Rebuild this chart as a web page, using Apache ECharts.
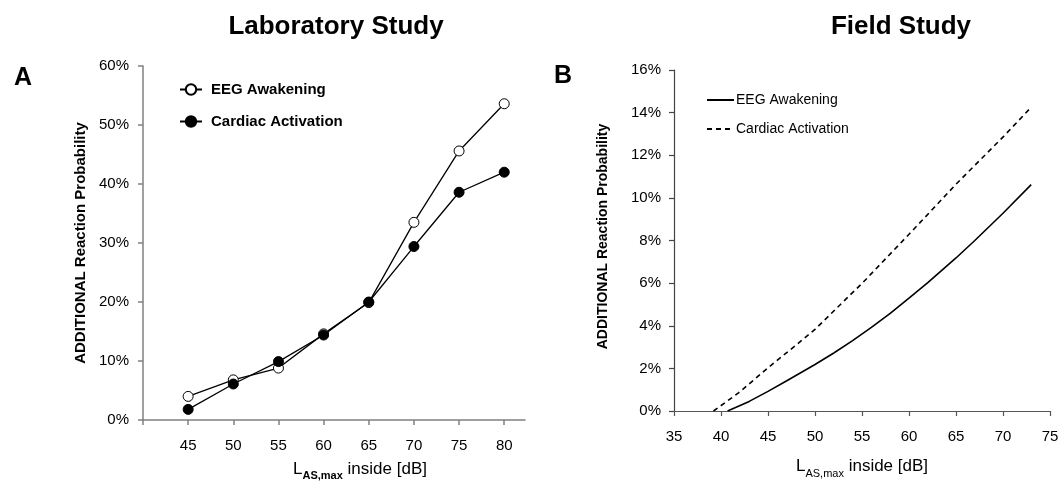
<!DOCTYPE html>
<html>
<head>
<meta charset="utf-8">
<script src="https://cdn.jsdelivr.net/npm/echarts@6/dist/echarts.min.js"></script>
<style>
html,body{margin:0;padding:0;background:#fff;}
#c{width:1060px;height:481px;}
</style>
</head>
<body>
<div id="c"></div>
<script>
// Laboratory study (panel A)
const labLevels = [45, 50, 55, 60, 65, 70, 75, 80];
const labEEG = [4.0, 6.8, 8.8, 14.6, 19.9, 33.5, 45.6, 53.6];
const labCardiac = [1.8, 6.1, 9.9, 14.4, 20.0, 29.4, 38.6, 42.0];
const labXTicks = [40, 45, 50, 55, 60, 65, 70, 75, 80];
const labXLabels = [45, 50, 55, 60, 65, 70, 75, 80];

// Field study (panel B)
const fieldEEGx = [40.7, 43.0, 45.0, 47.0, 50.0, 52.0, 54.0, 56.0, 58.0, 60.0, 62.0, 65.0, 67.0, 70.0, 73.0];
const fieldEEGy = [0.0, 0.45, 0.92, 1.42, 2.18, 2.72, 3.30, 3.92, 4.58, 5.30, 6.02, 7.18, 8.00, 9.28, 10.62];
const fieldCardx = [39.2, 41.9, 45.0, 48.1, 50.0, 55.1, 60.0, 65.0, 70.1, 72.8];
const fieldCardy = [0.0, 0.86, 2.03, 3.13, 3.83, 6.03, 8.29, 10.64, 12.9, 14.16];

const FONT = '"Liberation Sans", Arial, sans-serif';
const pair = (xs, ys) => xs.map((x, i) => [x, ys[i]]);

const chart = echarts.init(document.getElementById('c'), null, {renderer: 'canvas'});
chart.setOption({
  backgroundColor: '#fff',
  animation: false,
  textStyle: {fontFamily: FONT, color: '#000'},
  title: [
    {text: 'Laboratory Study', left: 331, top: 9, textAlign: 'center',
     textStyle: {fontFamily: FONT, fontSize: 26, fontWeight: 'bold', color: '#000'}},
    {text: 'Field Study', left: 896, top: 9, textAlign: 'center',
     textStyle: {fontFamily: FONT, fontSize: 26, fontWeight: 'bold', color: '#000'}},
    {text: 'A', left: 9, top: 61,
     textStyle: {fontFamily: FONT, fontSize: 25, fontWeight: 'bold', color: '#000'}},
    {text: 'B', left: 549, top: 59,
     textStyle: {fontFamily: FONT, fontSize: 25, fontWeight: 'bold', color: '#000'}}
  ],
  legend: [
    {orient: 'vertical', left: 174, top: 77, itemGap: 17,
     itemWidth: 22, itemHeight: 13, data: ['EEG Awakening', 'Cardiac Activation'],
     textStyle: {fontFamily: FONT, fontSize: 15, fontWeight: 'bold', color: '#000', padding: [0,0,0,4]},
     selectedMode: false},
    {orient: 'vertical', left: 701, top: 88, itemGap: 15,
     itemWidth: 27, itemHeight: 10, data: ['EEG Awakening ', 'Cardiac Activation '],
     itemStyle: {opacity: 0},
     textStyle: {fontFamily: FONT, fontSize: 14, color: '#000', padding: [0,0,0,-3]},
     selectedMode: false}
  ],
  grid: [
    {left: 143, right: 535, top: 66, bottom: 61, outerBoundsMode: 'none', containLabel: false},
    {left: 674, right: 10, top: 70, bottom: 70, outerBoundsMode: 'none', containLabel: false}
  ],
  xAxis: [
    {gridIndex: 0, type: 'value', min: 40, max: 82.3,
     name: '{l|L}{s|AS,max}{l| inside [dB]}', nameLocation: 'middle', nameGap: 38,
     nameTextStyle: {padding: [0, 0, 0, 52], rich: {
       l: {fontFamily: FONT, fontSize: 17, color: '#000', lineHeight: 20, verticalAlign: 'bottom'},
       s: {fontFamily: FONT, fontSize: 11, fontWeight: 'bold', color: '#000', lineHeight: 20, verticalAlign: 'bottom', padding: [0,0,-3,0]}
     }},
     axisLine: {lineStyle: {color: '#808080', width: 1.5}},
     axisTick: {show: true, length: 5, lineStyle: {color: '#808080', width: 1.5}, customValues: labXTicks},
     axisLabel: {fontFamily: FONT, fontSize: 15, color: '#000', margin: 18, customValues: labXLabels},
     splitLine: {show: false}},
    {gridIndex: 1, type: 'value', min: 35, max: 75, interval: 5,
     name: '{l|L}{s|AS,max}{l| inside [dB]}', nameLocation: 'middle', nameGap: 44,
     nameTextStyle: {rich: {
       l: {fontFamily: FONT, fontSize: 17, color: '#000', lineHeight: 20, verticalAlign: 'bottom'},
       s: {fontFamily: FONT, fontSize: 11, color: '#000', lineHeight: 20, verticalAlign: 'bottom', padding: [0,0,-4,0]}
     }},
     axisLine: {lineStyle: {color: '#555', width: 1.2}},
     axisTick: {show: true, length: 5, lineStyle: {color: '#555', width: 1.2}},
     axisLabel: {fontFamily: FONT, fontSize: 15, color: '#000', margin: 18},
     splitLine: {show: false}}
  ],
  yAxis: [
    {gridIndex: 0, type: 'value', min: 0, max: 60, interval: 10,
     name: 'ADDITIONAL Reaction Probability', nameLocation: 'middle', nameGap: 55,
     nameTextStyle: {fontFamily: FONT, fontSize: 15, fontWeight: 'bold', color: '#000'},
     axisLine: {show: true, lineStyle: {color: '#808080', width: 1.5}},
     axisTick: {show: true, length: 5, lineStyle: {color: '#808080', width: 1.5}},
     axisLabel: {fontFamily: FONT, fontSize: 15, color: '#000', margin: 14, formatter: '{value}%'},
     splitLine: {show: false}},
    {gridIndex: 1, type: 'value', min: 0, max: 16, interval: 2,
     name: 'ADDITIONAL Reaction Probability', nameLocation: 'middle', nameGap: 64,
     nameTextStyle: {fontFamily: FONT, fontSize: 14, fontWeight: 'bold', color: '#000', padding: [0, 0, 0, 8]},
     axisLine: {show: true, lineStyle: {color: '#444', width: 1.2}},
     axisTick: {show: true, length: 5, lineStyle: {color: '#444', width: 1.2}},
     axisLabel: {fontFamily: FONT, fontSize: 15, color: '#000', margin: 13, formatter: '{value}%'},
     splitLine: {show: false}}
  ],
  series: [
    {name: 'EEG Awakening', type: 'line', xAxisIndex: 0, yAxisIndex: 0,
     data: pair(labLevels, labEEG), symbol: 'circle', symbolSize: 10,
     lineStyle: {color: '#000', width: 1.3},
     itemStyle: {color: '#fff', borderColor: '#000', borderWidth: 1}, z: 3},
    {name: 'Cardiac Activation', type: 'line', xAxisIndex: 0, yAxisIndex: 0,
     data: pair(labLevels, labCardiac), symbol: 'circle', symbolSize: 10,
     lineStyle: {color: '#000', width: 1.3},
     itemStyle: {color: '#000', borderColor: '#000', borderWidth: 1}, z: 4},
    {name: 'EEG Awakening ', type: 'line', xAxisIndex: 1, yAxisIndex: 1,
     data: pair(fieldEEGx, fieldEEGy), symbol: 'none', smooth: false,
     lineStyle: {color: '#000', width: 1.6}, itemStyle: {color: '#000'}},
    {name: 'Cardiac Activation ', type: 'line', xAxisIndex: 1, yAxisIndex: 1,
     data: pair(fieldCardx, fieldCardy), symbol: 'none', smooth: false,
     lineStyle: {color: '#000', width: 1.6, type: [5, 4]}, itemStyle: {color: '#000'}}
  ]
});
</script>
</body>
</html>
